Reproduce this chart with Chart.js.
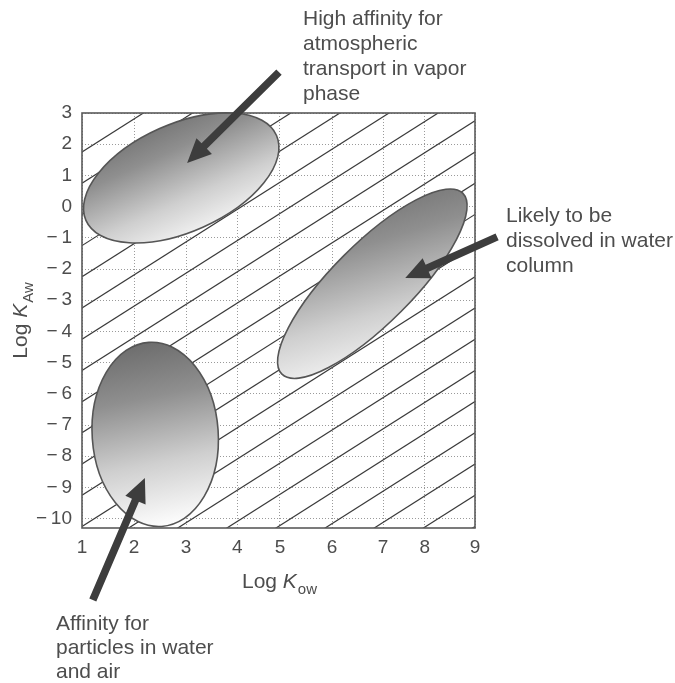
<!DOCTYPE html>
<html>
<head>
<meta charset="utf-8">
<script src="https://cdn.jsdelivr.net/npm/chart.js@4"></script>
<style>
  html, body { margin: 0; padding: 0; background: #fff; }
</style>
</head>
<body>
<canvas id="graph" width="675" height="683"></canvas>
<script>
// tick labels and where they sit on the (hand drawn, uneven) x axis
const xTickLabels = ["1", "2", "3", "4", "5", "6", "7", "8", "9"];
const xTickValues = [1, 2.06, 3.12, 4.16, 5.03, 6.09, 7.13, 7.98, 9];
const yTickValues = [3, 2, 1, 0, -1, -2, -3, -4, -5, -6, -7, -8, -9, -10];

// diagonal lines: log KOA = log Kow - log KAw
const koaLines = [-0.75, 0.25, 1.25, 2.25, 3.25, 4.25, 5.25, 6.25, 7.25, 8.25, 9.25,
  10.25, 11.25, 12.25, 13.25, 14.25, 15.25, 16.25, 17.25, 18.25, 19.25];

// the three regions: centre, end of long axis, end of short axis (log Kow, log KAw)
const centerKow = [3.02, 6.91, 2.49];
const centerKaw = [0.92, -2.47, -7.30];
const majorKow = [4.96, 8.75, 2.36];
const majorKaw = [2.28, 0.43, -4.35];
const minorKow = [3.46, 7.49, 3.77];
const minorKaw = [-0.66, -3.37, -7.16];

// callouts
const notes = [
  ["High affinity for", "atmospheric", "transport in vapor", "phase"],
  ["Likely to be", "dissolved in water", "column"],
  ["Affinity for", "particles in water", "and air"],
];
const arrowTailKow = [5.01, 9.45, 1.22];
const arrowTailKaw = [4.31, -0.97, -12.61];
const arrowTipKow = [3.14, 7.58, 2.28];
const arrowTipKaw = [1.40, -2.29, -8.70];

const FONT = "'Liberation Sans', Arial, Helvetica, sans-serif";
const TEXT = "#4d4d4d";

const datasets = koaLines.map((k) => ({
  data: [{ x: 1, y: 1 - k }, { x: 9, y: 9 - k }],
  showLine: true,
  borderColor: "#3a3a3a",
  borderWidth: 1.2,
  pointRadius: 0,
  pointHoverRadius: 0,
}));

function drawArrow(ctx, x0, y0, x1, y1) {
  const ang = Math.atan2(y1 - y0, x1 - x0);
  const len = Math.hypot(x1 - x0, y1 - y0);
  const hl = 24, hw = 11, sw = 3.8;
  ctx.save();
  ctx.translate(x0, y0);
  ctx.rotate(ang);
  ctx.fillStyle = "#3d3d3d";
  ctx.beginPath();
  ctx.moveTo(0, -sw);
  ctx.lineTo(len - hl, -sw);
  ctx.lineTo(len - hl, -hw);
  ctx.lineTo(len, 0);
  ctx.lineTo(len - hl, hw);
  ctx.lineTo(len - hl, sw);
  ctx.lineTo(0, sw);
  ctx.closePath();
  ctx.fill();
  ctx.restore();
}

// "Log K_sub" with italic K and subscript
function drawAxisTitle(ctx, sub, cx, baseline) {
  const big = "21px " + FONT, it = "italic 21px " + FONT, small = "15px " + FONT;
  ctx.font = big; const w1 = ctx.measureText("Log ").width;
  ctx.font = it; const w2 = ctx.measureText("K").width + 1;
  ctx.font = small; const w3 = ctx.measureText(sub).width;
  let x = cx - (w1 + w2 + w3) / 2;
  ctx.fillStyle = TEXT;
  ctx.textAlign = "left";
  ctx.textBaseline = "alphabetic";
  ctx.font = big; ctx.fillText("Log ", x, baseline); x += w1;
  ctx.font = it; ctx.fillText("K", x, baseline); x += w2;
  ctx.font = small; ctx.fillText(sub, x, baseline + 6);
}

const decor = {
  id: "decor",
  afterDatasetsDraw(chart) {
    const { ctx, chartArea: a, scales: { x, y } } = chart;
    ctx.save();
    for (let i = 0; i < centerKow.length; i++) {
      const cx = x.getPixelForValue(centerKow[i]), cy = y.getPixelForValue(centerKaw[i]);
      const ux = x.getPixelForValue(majorKow[i]) - cx, uy = y.getPixelForValue(majorKaw[i]) - cy;
      const vx = x.getPixelForValue(minorKow[i]) - cx, vy = y.getPixelForValue(minorKaw[i]) - cy;
      const xe = Math.hypot(ux, vx), ye = Math.hypot(uy, vy);
      ctx.save();
      ctx.beginPath();
      ctx.transform(ux, uy, vx, vy, cx, cy);
      ctx.arc(0, 0, 1, 0, Math.PI * 2);
      ctx.restore();
      const g = ctx.createLinearGradient(cx - 0.3 * xe, cy - ye, cx + 0.3 * xe, cy + ye);
      g.addColorStop(0, "#6c6c6c");
      g.addColorStop(0.3, "#8f8f8f");
      g.addColorStop(0.65, "#cfcfcf");
      g.addColorStop(1, "#ffffff");
      ctx.fillStyle = g;
      ctx.fill();
      ctx.lineWidth = 1.6;
      ctx.strokeStyle = "#555555";
      ctx.stroke();
    }
    ctx.lineWidth = 1.6;
    ctx.strokeStyle = "#5a5a5a";
    ctx.strokeRect(a.left, a.top, a.right - a.left, a.bottom - a.top);
    ctx.restore();
  },
  afterDraw(chart) {
    const { ctx, chartArea: a, scales: { x, y } } = chart;
    ctx.save();
    for (let i = 0; i < arrowTipKow.length; i++) {
      drawArrow(ctx,
        x.getPixelForValue(arrowTailKow[i]), y.getPixelForValue(arrowTailKaw[i]),
        x.getPixelForValue(arrowTipKow[i]), y.getPixelForValue(arrowTipKaw[i]));
    }
    const noteX = [303, 506, 56], noteY = [25, 222, 630], pitch = [25, 25, 24];
    ctx.font = "21px " + FONT;
    ctx.fillStyle = TEXT;
    ctx.textAlign = "left";
    ctx.textBaseline = "alphabetic";
    notes.forEach((lines, i) => {
      lines.forEach((t, j) => ctx.fillText(t, noteX[i], noteY[i] + j * pitch[i]));
    });
    drawAxisTitle(ctx, "ow", (a.left + a.right) / 2 + 1, 588);
    ctx.save();
    ctx.translate(27, (a.top + a.bottom) / 2);
    ctx.rotate(-Math.PI / 2);
    drawAxisTitle(ctx, "Aw", 0, 0);
    ctx.restore();
    ctx.restore();
  },
};

const tickFont = { family: FONT, size: 19 };

new Chart(document.getElementById("graph"), {
  type: "scatter",
  data: { datasets },
  options: {
    responsive: false,
    animation: false,
    events: [],
    layout: { padding: { left: 0, top: 113, right: 200, bottom: 115 } },
    plugins: { legend: { display: false }, tooltip: { enabled: false } },
    scales: {
      x: {
        type: "linear",
        min: 1,
        max: 9,
        afterBuildTicks: (s) => { s.ticks = xTickValues.map((v) => ({ value: v })); },
        afterFit: (s) => { s.height = 40; },
        ticks: {
          callback: (v, i) => xTickLabels[i],
          color: TEXT,
          font: tickFont,
          padding: 8,
          maxRotation: 0,
          autoSkip: false,
        },
        grid: { color: "#9a9a9a", lineWidth: 1, drawTicks: false },
        border: { display: false, dash: [1, 2] },
      },
      y: {
        type: "linear",
        min: -10.3,
        max: 3,
        afterBuildTicks: (s) => { s.ticks = yTickValues.map((v) => ({ value: v })); },
        afterFit: (s) => { s.width = 82; },
        ticks: {
          callback: (v) => (v < 0 ? "\u2212\u2009" + Math.abs(v) : String(v)),
          color: TEXT,
          font: tickFont,
          padding: 10,
          autoSkip: false,
        },
        grid: { color: "#9a9a9a", lineWidth: 1, drawTicks: false },
        border: { display: false, dash: [1, 2] },
      },
    },
  },
  plugins: [decor],
});
</script>
</body>
</html>
